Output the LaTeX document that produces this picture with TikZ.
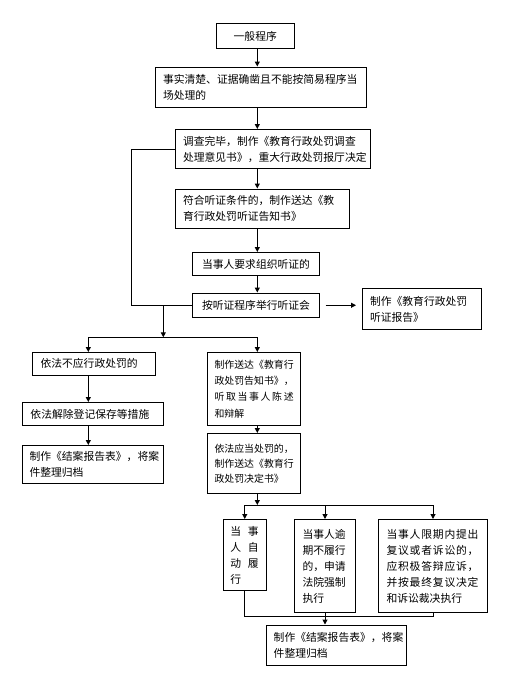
\documentclass[tikz,border=0pt]{standalone}
\usepackage{fontspec}
\newfontfamily\cjk{Noto Sans CJK SC}
\usetikzlibrary{arrows.meta}
\makeatletter
\def\jl@loop#1#2{#1\ifx\relax#2\else\hfill\expandafter\jl@loop\fi#2}
\newcommand\myjust[2]{\makebox[#1][s]{\jl@loop#2\relax}}
\makeatother
\begin{document}
\begin{tikzpicture}[x=1pt,y=-1pt,
  box/.style={draw, line width=1pt, inner sep=0pt, align=left, font=\cjk\fontsize{10.8}{16}\selectfont},
  cbox/.style={box, align=center},
  ln/.style={line width=1pt},
  arr/.style={ln, -{Triangle[length=5pt,width=5pt]}}]
\useasboundingbox (0,0) rectangle (523,680);

\node[cbox, minimum width=77.5pt, minimum height=25pt] (b1) at (255.25,36) {一般程序};
\node[box, minimum width=211pt, minimum height=40pt, text width=195pt] (b2) at (260.5,87) {事实清楚、证据确凿且不能按简易程序当\\场处理的};
\node[box, minimum width=195pt, minimum height=39pt, text width=179pt] (b3) at (272.5,149) {调查完毕，制作《教育行政处罚调查\\处理意见书》，重大行政处罚报厅决定};
\node[box, minimum width=174.5pt, minimum height=39.5pt, text width=158.5pt] (b4) at (262.25,208.75) {符合听证条件的，制作送达《教\\育行政处罚听证告知书》};
\node[cbox, minimum width=127pt, minimum height=23pt] (b5) at (256,264) {当事人要求组织听证的};
\node[cbox, minimum width=127pt, minimum height=24.5pt] (b6) at (256,305.25) {按听证程序举行听证会};
\node[box, minimum width=119pt, minimum height=41pt, text width=104pt] (b7) at (422,309) {制作《教育行政处罚\\听证报告》};
\node[box, minimum width=123pt, minimum height=22.5pt, text width=107pt] (b8) at (94,363.75) {依法不应行政处罚的};
\node[box, minimum width=141pt, minimum height=23pt, text width=125pt] (b9) at (93,414) {依法解除登记保存等措施};
\node[box, minimum width=141pt, minimum height=38pt, text width=127pt] (b10) at (93,464.5) {制作《结案报告表》，将案\\件整理归档};
\node[box, minimum width=93pt, minimum height=73pt, text width=79pt, font=\cjk\fontsize{9.9}{16.3}\selectfont] (b11) at (254,389) {制作送达《教育行\\政处罚告知书》，\\\myjust{79.2pt}{听取当事人陈述}\\和辩解};
\node[box, minimum width=93pt, minimum height=60pt, text width=79pt, font=\cjk\fontsize{9.9}{15}\selectfont] (b12) at (254,463.5) {依法应当处罚的，\\制作送达《教育行\\政处罚决定书》};
\node[box, minimum width=42.5pt, minimum height=71pt, text width=29pt] (b13) at (244.75,555) {\myjust{28.5pt}{当事}\\\myjust{28.5pt}{人自}\\\myjust{28.5pt}{动履}\\行};
\node[box, minimum width=61pt, minimum height=93pt, text width=45pt] (b14) at (325,566) {当事人逾\\期不履行\\的，申请\\法院强制\\执行};
\node[box, minimum width=109pt, minimum height=93pt, text width=93pt] (b15) at (433,566) {\myjust{92pt}{当事人限期内提出}\\\myjust{92pt}{复议或者诉讼的，}\\\myjust{92pt}{应积极答辩应诉，}\\\myjust{92pt}{并按最终复议决定}\\和诉讼裁决执行};
\node[box, minimum width=140pt, minimum height=40pt, text width=126pt] (b16) at (336.7,645) {制作《结案报告表》，将案\\件整理归档};

\coordinate (spine) at (257.3,0);
\coordinate (loopx) at (131.7,0);
\coordinate (leftx) at (88.3,0);
\coordinate (j1) at (163.3,305.25);
\coordinate (j2) at (163.3,337.3);
\coordinate (j3) at (257.3,505);
\coordinate (j4) at (326,616);

\draw[arr] (b1.south -| spine) -- (b2.north -| spine);
\draw[arr] (b2.south -| spine) -- (b3.north -| spine);
\draw[arr] (b3.south -| spine) -- (b4.north -| spine);
\draw[arr] (b4.south -| spine) -- (b5.north -| spine);
\draw[arr] (b5.south -| spine) -- (b6.north -| spine);
\draw[ln] (b3.west) -- (b3.west -| loopx) |- (b6.west);
\draw[arr, shorten <=5.5pt, shorten >=6pt] (b6.east) -- (b6.east -| b7.west);
\draw[arr] (j1) -- (j2);
\draw[ln] (j2 -| leftx) -- (j2 -| spine);
\draw[arr] (j2 -| leftx) -- (b8.north -| leftx);
\draw[arr] (j2 -| spine) -- (b11.north -| spine);
\draw[arr] (b8.south -| leftx) -- (b9.north -| leftx);
\draw[arr] (b9.south -| leftx) -- (b10.north -| leftx);
\draw[arr] (b11.south -| spine) -- (b12.north -| spine);
\draw[arr] (b12.south -| spine) -- (j3);
\draw[ln] (j3 -| b13.north) -- (j3 -| b15.north);
\draw[arr] (j3 -| b13.north) -- (b13.north);
\draw[arr] (j3 -| b14.north) -- (b14.north);
\draw[arr] (j3 -| b15.north) -- (b15.north);
\draw[ln] (b13.south) -- (b13.south |- j4) -- (b15.south |- j4) -- (b15.south);
\draw[ln] (b14.south) -- (b14.south |- j4);
\draw[arr] (b14.south |- j4) -- (b14.south |- b16.north);
\end{tikzpicture}
\end{document}
